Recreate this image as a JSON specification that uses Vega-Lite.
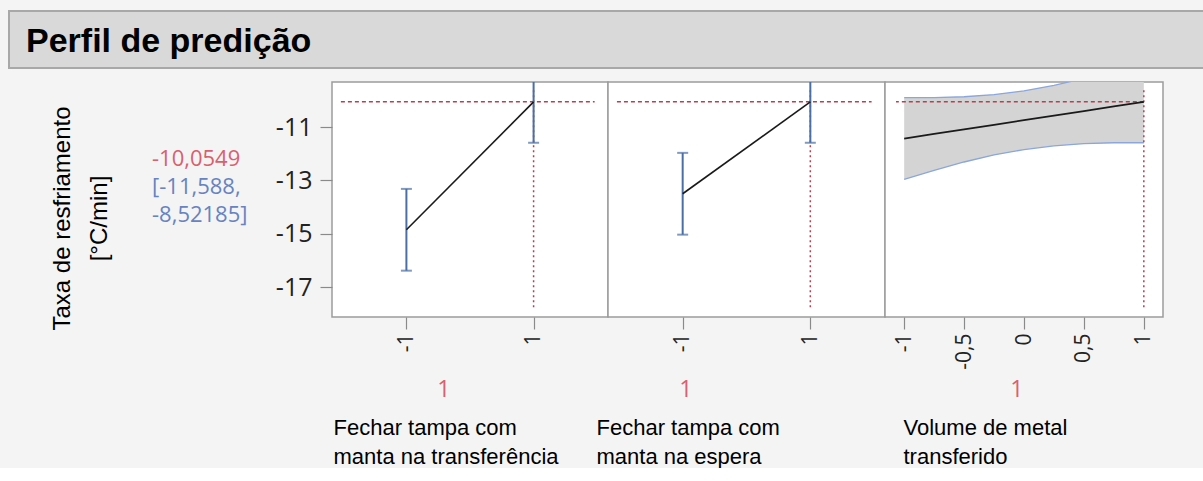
{
  "$schema": "https://vega.github.io/schema/vega-lite/v6.json",
  "background": "#f4f4f4",
  "padding": {"left": 8, "top": 10, "right": 0, "bottom": 0},
  "spacing": 12,
  "config": {
    "font": "Liberation Sans",
    "view": {"stroke": "#9c9c9c", "strokeWidth": 1.5, "fill": "#ffffff"}
  },
  "datasets": {
    "f1": [
      {"x": -1, "pred": -14.85, "lo": -16.383, "hi": -13.317},
      {"x": 1, "pred": -10.0549, "lo": -11.588, "hi": -8.52185}
    ],
    "f2": [
      {"x": -1, "pred": -13.5, "lo": -15.033, "hi": -11.967},
      {"x": 1, "pred": -10.0549, "lo": -11.588, "hi": -8.52185}
    ],
    "f3": [
      {"x": -1, "pred": -11.43, "lo": -12.963, "hi": -9.897},
      {"x": -0.75, "pred": -11.258, "lo": -12.619, "hi": -9.897},
      {"x": -0.5, "pred": -11.086, "lo": -12.309, "hi": -9.863},
      {"x": -0.25, "pred": -10.914, "lo": -12.046, "hi": -9.782},
      {"x": 0, "pred": -10.742, "lo": -11.842, "hi": -9.642},
      {"x": 0.25, "pred": -10.57, "lo": -11.702, "hi": -9.438},
      {"x": 0.5, "pred": -10.398, "lo": -11.621, "hi": -9.175},
      {"x": 0.75, "pred": -10.226, "lo": -11.587, "hi": -8.865},
      {"x": 1, "pred": -10.0549, "lo": -11.588, "hi": -8.52185}
    ],
    "current": [{"xcur": 1, "ycur": -10.0549}],
    "readout": [{"pred": "-10,0549", "ci": "[-11,588,\n-8,52185]"}],
    "heading": [{"heading": "Perfil de predição"}]
  },
  "vconcat": [
    {
      "width": 1196,
      "height": 57,
      "view": {"fill": "#d9d9d9", "stroke": "#a8a8a8", "strokeWidth": 2},
      "data": {"name": "heading"},
      "mark": {"type": "text", "align": "left", "baseline": "middle", "font": "Liberation Sans", "fontWeight": "bold", "fontSize": 34, "dx": 17, "dy": 2, "color": "#000000"},
      "encoding": {
        "text": {"field": "heading", "type": "nominal"},
        "x": {"datum": 0, "type": "quantitative", "scale": {"domain": [0, 1], "nice": false}, "axis": null}
      }
    },
    {
      "hconcat": [
        {
          "width": 323,
          "height": 235,
          "view": {"stroke": null, "fill": null},
          "data": {"values": []},
          "mark": {"type": "point", "opacity": 0},
          "encoding": {}
        },
        {
          "width": 276,
          "height": 235,
          "layer": [
            {
              "data": {"name": "current"},
              "mark": {"type": "rule", "color": "#b5404f", "strokeDash": [4, 3], "strokeWidth": 1.5},
              "encoding": {
                "y": {
                  "field": "ycur", "type": "quantitative",
                  "scale": {"domain": [-18.12, -9.31], "nice": false, "zero": false},
                  "axis": {
                    "values": [-10, -11, -12, -13, -14, -15, -16, -17],
                    "labelExpr": "datum.value % 2 == 0 ? '' : '' + datum.value",
                    "tickSize": 12, "tickColor": "#8a8a8a", "tickWidth": 1.2,
                    "domain": false, "grid": false, "labelFlush": false, "labelOverlap": false,
                    "labelFont": "Open Sans", "labelFontSize": 25, "labelColor": "#222222", "labelPadding": 8,
                    "title": ["Taxa de resfriamento", "[°C/min]"],
                    "titleFont": "Liberation Sans", "titleFontSize": 24, "titleFontWeight": "normal",
                    "titleColor": "#000000", "titlePadding": 164, "titleLineHeight": 37, "titleY": 136
                  }
                },
                "x": {
                  "datum": -2.03, "type": "quantitative",
                  "scale": {"domain": [-2.17, 2.17], "nice": false, "zero": false},
                  "axis": {
                    "values": [-1, 1],
                    "labelExpr": "'' + datum.value",
                    "labelAngle": 270,
                    "tickSize": 12, "tickColor": "#8a8a8a", "tickWidth": 1.2,
                    "domain": false, "grid": false, "labelFlush": false, "labelOverlap": false,
                    "labelFont": "Open Sans", "labelFontSize": 21, "labelColor": "#222222", "labelPadding": 4,
                    "title": ["Fechar tampa com", "manta na transferência"],
                    "titleFont": "Liberation Sans", "titleFontSize": 22, "titleFontWeight": "normal",
                    "titleColor": "#000000", "titleAnchor": "start", "titleAlign": "left",
                    "titleBaseline": "top", "titleLineHeight": 29, "titleX": 1, "titleY": 100
                  }
                },
                "x2": {"datum": 1.96}
              }
            },
            {
              "data": {"name": "current"},
              "mark": {"type": "rule", "color": "#b5404f", "strokeDash": [2, 3], "strokeWidth": 1.5},
              "encoding": {
                "x": {"field": "xcur", "type": "quantitative"},
                "y": {"datum": -9.62, "type": "quantitative"},
                "y2": {"datum": -17.86}
              }
            },
            {
              "data": {"name": "f1"},
              "mark": {"type": "rule", "color": "#4a6fa5", "strokeWidth": 2, "clip": true},
              "encoding": {
                "x": {"field": "x", "type": "quantitative"},
                "y": {"field": "lo", "type": "quantitative"},
                "y2": {"field": "hi"}
              }
            },
            {
              "data": {"name": "f1"},
              "transform": [{"fold": ["lo", "hi"], "as": ["end", "yv"]}],
              "mark": {"type": "tick", "orient": "horizontal", "color": "#4a6fa5", "size": 11, "thickness": 2, "clip": true},
              "encoding": {
                "x": {"field": "x", "type": "quantitative"},
                "y": {"field": "yv", "type": "quantitative"}
              }
            },
            {
              "data": {"name": "f1"},
              "mark": {"type": "line", "color": "#1a1a1a", "strokeWidth": 1.6, "clip": true},
              "encoding": {
                "x": {"field": "x", "type": "quantitative"},
                "y": {"field": "pred", "type": "quantitative"}
              }
            },
            {
              "data": {"name": "current"},
              "mark": {"type": "text", "color": "#d9606e", "font": "Open Sans", "fontSize": 23, "align": "center", "baseline": "middle"},
              "encoding": {
                "text": {"field": "xcur", "type": "quantitative"},
                "x": {"datum": -0.41, "type": "quantitative"},
                "y": {"datum": -20.86, "type": "quantitative"}
              }
            },
            {
              "data": {"name": "readout"},
              "mark": {"type": "text", "color": "#d9606e", "font": "Open Sans", "fontSize": 22, "align": "left", "baseline": "middle"},
              "encoding": {
                "text": {"field": "pred", "type": "nominal"},
                "x": {"datum": -5.0, "type": "quantitative"},
                "y": {"datum": -12.2, "type": "quantitative"}
              }
            },
            {
              "data": {"name": "readout"},
              "mark": {"type": "text", "color": "#6783c0", "font": "Open Sans", "fontSize": 22, "align": "left", "baseline": "middle", "lineBreak": "\n", "lineHeight": 28},
              "encoding": {
                "text": {"field": "ci", "type": "nominal"},
                "x": {"datum": -5.0, "type": "quantitative"},
                "y": {"datum": -13.25, "type": "quantitative"}
              }
            }
          ]
        },
        {
          "width": 277,
          "height": 235,
          "layer": [
            {
              "data": {"name": "current"},
              "mark": {"type": "rule", "color": "#b5404f", "strokeDash": [4, 3], "strokeWidth": 1.5},
              "encoding": {
                "y": {"field": "ycur", "type": "quantitative", "scale": {"domain": [-18.12, -9.31], "nice": false, "zero": false}, "axis": null},
                "x": {
                  "datum": -2.03, "type": "quantitative",
                  "scale": {"domain": [-2.17, 2.17], "nice": false, "zero": false},
                  "axis": {
                    "values": [-1, 1],
                    "labelExpr": "'' + datum.value",
                    "labelAngle": 270,
                    "tickSize": 12, "tickColor": "#8a8a8a", "tickWidth": 1.2,
                    "domain": false, "grid": false, "labelFlush": false, "labelOverlap": false,
                    "labelFont": "Open Sans", "labelFontSize": 21, "labelColor": "#222222", "labelPadding": 4,
                    "title": ["Fechar tampa com", "manta na espera"],
                    "titleFont": "Liberation Sans", "titleFontSize": 22, "titleFontWeight": "normal",
                    "titleColor": "#000000", "titleAnchor": "start", "titleAlign": "left",
                    "titleBaseline": "top", "titleLineHeight": 29, "titleX": -12, "titleY": 100
                  }
                },
                "x2": {"datum": 1.96}
              }
            },
            {
              "data": {"name": "current"},
              "mark": {"type": "rule", "color": "#b5404f", "strokeDash": [2, 3], "strokeWidth": 1.5},
              "encoding": {
                "x": {"field": "xcur", "type": "quantitative"},
                "y": {"datum": -9.62, "type": "quantitative"},
                "y2": {"datum": -17.86}
              }
            },
            {
              "data": {"name": "f2"},
              "mark": {"type": "rule", "color": "#4a6fa5", "strokeWidth": 2, "clip": true},
              "encoding": {
                "x": {"field": "x", "type": "quantitative"},
                "y": {"field": "lo", "type": "quantitative"},
                "y2": {"field": "hi"}
              }
            },
            {
              "data": {"name": "f2"},
              "transform": [{"fold": ["lo", "hi"], "as": ["end", "yv"]}],
              "mark": {"type": "tick", "orient": "horizontal", "color": "#4a6fa5", "size": 11, "thickness": 2, "clip": true},
              "encoding": {
                "x": {"field": "x", "type": "quantitative"},
                "y": {"field": "yv", "type": "quantitative"}
              }
            },
            {
              "data": {"name": "f2"},
              "mark": {"type": "line", "color": "#1a1a1a", "strokeWidth": 1.6, "clip": true},
              "encoding": {
                "x": {"field": "x", "type": "quantitative"},
                "y": {"field": "pred", "type": "quantitative"}
              }
            },
            {
              "data": {"name": "current"},
              "mark": {"type": "text", "color": "#d9606e", "font": "Open Sans", "fontSize": 23, "align": "center", "baseline": "middle"},
              "encoding": {
                "text": {"field": "xcur", "type": "quantitative"},
                "x": {"datum": -0.95, "type": "quantitative"},
                "y": {"datum": -20.86, "type": "quantitative"}
              }
            }
          ]
        },
        {
          "width": 278,
          "height": 235,
          "layer": [
            {
              "data": {"name": "f3"},
              "mark": {"type": "area", "color": "#d4d4d4", "opacity": 1, "clip": true},
              "encoding": {
                "x": {
                  "field": "x", "type": "quantitative",
                  "scale": {"domain": [-1.16, 1.16], "nice": false, "zero": false},
                  "axis": {
                    "values": [-1, -0.75, -0.5, -0.25, 0, 0.25, 0.5, 0.75, 1],
                    "labelExpr": "datum.value % 0.5 != 0 ? '' : replace('' + datum.value, '.', ',')",
                    "labelAngle": 270,
                    "tickSize": {"condition": {"test": "datum.value % 0.5 != 0", "value": 6}, "value": 12},
                    "tickColor": "#8a8a8a", "tickWidth": 1.2,
                    "domain": false, "grid": false, "labelFlush": false, "labelOverlap": false,
                    "labelFont": "Open Sans", "labelFontSize": 21, "labelColor": "#222222", "labelPadding": 4,
                    "title": ["Volume de metal", "transferido"],
                    "titleFont": "Liberation Sans", "titleFontSize": 22, "titleFontWeight": "normal",
                    "titleColor": "#000000", "titleAnchor": "start", "titleAlign": "left",
                    "titleBaseline": "top", "titleLineHeight": 29, "titleX": 18, "titleY": 100
                  }
                },
                "y": {"field": "lo", "type": "quantitative", "scale": {"domain": [-18.12, -9.31], "nice": false, "zero": false}, "axis": null},
                "y2": {"field": "hi"}
              }
            },
            {
              "data": {"name": "f3"},
              "mark": {"type": "line", "color": "#8aa6dc", "strokeWidth": 1.3, "clip": true},
              "encoding": {
                "x": {"field": "x", "type": "quantitative"},
                "y": {"field": "lo", "type": "quantitative"}
              }
            },
            {
              "data": {"name": "f3"},
              "mark": {"type": "line", "color": "#8aa6dc", "strokeWidth": 1.3, "clip": true},
              "encoding": {
                "x": {"field": "x", "type": "quantitative"},
                "y": {"field": "hi", "type": "quantitative"}
              }
            },
            {
              "data": {"name": "current"},
              "mark": {"type": "rule", "color": "#b5404f", "strokeDash": [4, 3], "strokeWidth": 1.5},
              "encoding": {
                "y": {"field": "ycur", "type": "quantitative"},
                "x": {"field": "xcur", "type": "quantitative"},
                "x2": {"datum": -1.068}
              }
            },
            {
              "data": {"name": "current"},
              "mark": {"type": "rule", "color": "#b5404f", "strokeDash": [2, 3], "strokeWidth": 1.5},
              "encoding": {
                "x": {"field": "xcur", "type": "quantitative"},
                "y": {"datum": -9.62, "type": "quantitative"},
                "y2": {"datum": -17.86}
              }
            },
            {
              "data": {"name": "f3"},
              "mark": {"type": "line", "color": "#1a1a1a", "strokeWidth": 1.8, "clip": true},
              "encoding": {
                "x": {"field": "x", "type": "quantitative"},
                "y": {"field": "pred", "type": "quantitative"}
              }
            },
            {
              "data": {"name": "current"},
              "mark": {"type": "text", "color": "#d9606e", "font": "Open Sans", "fontSize": 23, "align": "center", "baseline": "middle"},
              "encoding": {
                "text": {"field": "xcur", "type": "quantitative"},
                "x": {"datum": -0.06, "type": "quantitative"},
                "y": {"datum": -20.86, "type": "quantitative"}
              }
            }
          ]
        }
      ],
      "spacing": 0,
      "bounds": "flush"
    }
  ]
}
